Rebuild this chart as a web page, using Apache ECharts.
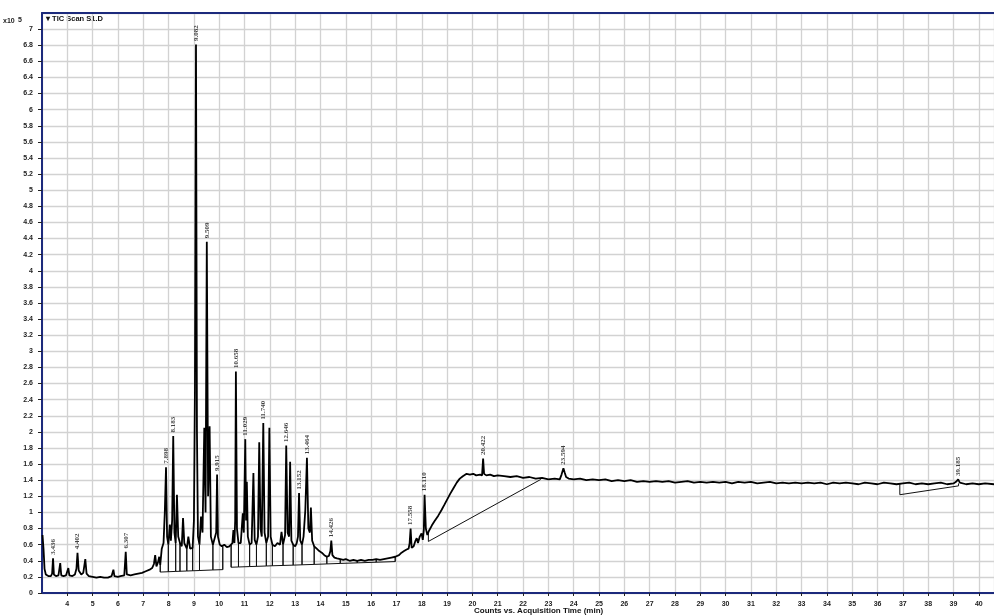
<!DOCTYPE html>
<html>
<head>
<meta charset="utf-8">
<script src="https://cdn.jsdelivr.net/npm/echarts@6/dist/echarts.min.js"></script>
<style>
  html, body { margin: 0; padding: 0; background: #fff; }
  #chart { width: 994px; height: 616px; }
</style>
</head>
<body>
<div id="chart"></div>
<script>
// TIC Scan S1.D — acquisition time (min) against counts (x10^5)

// Trace points between the labelled peaks
const earlyTrace = [
  [3.02,0.72],[3.06,0.55],[3.10,0.30],[3.15,0.23],[3.25,0.21],[3.35,0.21],[3.40,0.24],
  [3.47,0.23],[3.55,0.21],[3.65,0.22],[3.72,0.37],[3.76,0.22],[3.85,0.21],[3.95,0.22],
  [4.04,0.31],[4.08,0.22],[4.20,0.21],[4.30,0.23],[4.36,0.30],[4.45,0.28],[4.55,0.23],
  [4.63,0.25],[4.71,0.42],[4.76,0.24],[4.85,0.21],[5.00,0.20],[5.15,0.19],[5.30,0.20],
  [5.45,0.19],[5.60,0.19],[5.75,0.21],[5.82,0.29],[5.86,0.21],[6.00,0.20],[6.10,0.21],
  [6.25,0.22],[6.35,0.23],[6.50,0.22],[6.65,0.23],[6.80,0.24],[6.95,0.25],[7.10,0.27],
  [7.25,0.29],[7.35,0.31],[7.42,0.36],[7.47,0.47],[7.52,0.33],[7.58,0.38],[7.63,0.45],
  [7.67,0.35],[7.73,0.55]
];

const clusterTrace = [
  [7.80,0.62],[7.85,1.00],[7.94,0.70],[7.99,0.60],[8.05,0.85],[8.09,0.65],[8.14,0.90],
  [8.23,0.75],[8.28,0.62],[8.33,1.22],[8.38,0.70],[8.45,0.62],[8.52,0.58],[8.57,0.93],
  [8.62,0.62],[8.72,0.55],[8.78,0.70],[8.85,0.55],[8.95,0.56],[9.00,0.90],[9.04,2.50],
  [9.12,2.00],[9.16,0.70],[9.22,0.60],[9.28,0.95],[9.34,0.75],[9.41,2.05],[9.46,1.00],
  [9.56,1.20],[9.62,2.07],[9.67,0.70],[9.75,0.60],[9.82,0.62],[9.88,0.75],[9.95,0.70],
  [10.02,0.60],[10.10,0.58],[10.20,0.60],[10.30,0.57],[10.40,0.58],[10.47,0.60],
  [10.52,0.62],[10.56,0.78],[10.60,0.62],[10.63,0.90],[10.70,0.80],[10.76,0.62],
  [10.85,0.62],[10.93,0.99],[10.97,0.75],[11.06,0.90],[11.09,1.38],[11.13,0.70],
  [11.20,0.60],[11.28,0.62],[11.35,1.49],[11.40,0.66],[11.47,0.60],[11.53,0.70],
  [11.58,1.87],[11.63,0.80],[11.68,0.70],[11.79,0.75],[11.86,0.62],[11.93,0.70],
  [11.98,2.05],[12.03,0.70],[12.10,0.60],[12.20,0.58],[12.30,0.62],[12.40,0.60],
  [12.46,0.76],[12.52,0.60],[12.60,0.72],[12.70,0.75],[12.76,0.70],[12.80,1.63],
  [12.85,0.65],[12.92,0.60],[13.00,0.58],[13.06,0.62],[13.11,0.70],[13.20,0.65],
  [13.27,0.60],[13.33,0.70],[13.40,1.03],[13.52,0.80],[13.58,0.75],[13.62,1.06],
  [13.67,0.65],[13.75,0.58],[13.85,0.55],[13.95,0.52],[14.05,0.50],[14.15,0.47],
  [14.25,0.45],[14.33,0.46],[14.39,0.52],[14.47,0.47],[14.55,0.44],[14.65,0.43],
  [14.78,0.42]
];

const rampTrace = [
  [14.90,0.41],[15.00,0.42],[15.15,0.40],[15.30,0.41],[15.45,0.40],[15.60,0.41],
  [15.75,0.40],[15.90,0.41],[16.05,0.41],[16.20,0.42],[16.35,0.41],[16.50,0.42],
  [16.65,0.43],[16.80,0.44],[16.95,0.45],[17.10,0.47],[17.20,0.50],[17.30,0.52],
  [17.40,0.54],[17.48,0.55],[17.52,0.62],[17.60,0.56],[17.68,0.58],[17.74,0.64],
  [17.80,0.68],[17.85,0.62],[17.92,0.70],[17.99,0.74],[18.04,0.66],[18.08,0.78],
  [18.16,0.80],[18.22,0.72],[18.28,0.77],[18.40,0.84],[18.50,0.89],[18.65,0.96],
  [18.78,1.03],[18.90,1.10],[19.00,1.16],[19.12,1.23],[19.25,1.30],[19.38,1.37],
  [19.50,1.42],[19.62,1.45],[19.77,1.48],[19.90,1.47],[20.03,1.48],[20.15,1.46],
  [20.30,1.47],[20.38,1.46],[20.46,1.48],[20.55,1.46],[20.70,1.47],[20.85,1.45],
  [21.00,1.46]
];

const plateauTrace = [
  [21.25,1.45],[21.50,1.44],[21.75,1.45],[22.00,1.43],[22.25,1.44],[22.50,1.42],
  [22.75,1.43],[23.00,1.41],[23.25,1.42],[23.45,1.41],[23.52,1.47],[23.64,1.50],
  [23.70,1.44],[23.80,1.42],[24.00,1.41],[24.25,1.42],[24.50,1.40],[24.75,1.41],
  [25.00,1.40],[25.25,1.41],[25.50,1.39],[25.75,1.40],[26.00,1.39],[26.25,1.40],
  [26.50,1.38],[26.75,1.39],[27.00,1.38],[27.25,1.39],[27.50,1.38],[27.75,1.39],
  [28.00,1.37],[28.25,1.38],[28.50,1.39],[28.75,1.37],[29.00,1.38],[29.25,1.37],
  [29.50,1.38],[29.75,1.37],[30.00,1.38],[30.25,1.36],[30.50,1.38],[30.75,1.37],
  [31.00,1.38],[31.25,1.36],[31.50,1.37],[31.75,1.38],[32.00,1.36],[32.25,1.37],
  [32.50,1.36],[32.75,1.37],[33.00,1.36],[33.25,1.37],[33.50,1.36],[33.75,1.37],
  [34.00,1.35],[34.25,1.37],[34.50,1.36],[34.75,1.37],[35.00,1.36],[35.25,1.35],
  [35.50,1.37],[35.75,1.36],[36.00,1.35],[36.25,1.37],[36.50,1.36],[36.75,1.35],
  [37.00,1.36],[37.25,1.37],[37.50,1.35],[37.75,1.36],[38.00,1.35],[38.25,1.36],
  [38.50,1.37],[38.75,1.35],[39.00,1.36],[39.10,1.38],[39.25,1.37],[39.50,1.35],
  [39.75,1.36],[40.00,1.35],[40.25,1.36],[40.60,1.35]
];

// Labelled peak apexes (retention time, counts)
const peakTimes  = [3.436, 4.402, 6.307, 7.898, 8.183, 9.082, 9.509, 9.915, 10.658, 11.029,
                    11.740, 12.646, 13.152, 13.464, 14.426, 17.558, 18.110, 20.422, 23.594, 39.185];
const peakCounts = [0.43, 0.50, 0.51, 1.56, 1.95, 6.81, 4.36, 1.47, 2.75, 1.91,
                    2.11, 1.83, 1.24, 1.68, 0.65, 0.80, 1.22, 1.67, 1.55, 1.41];

// Integration baselines: [time, baseline level, drop-line top]
const integrationA = [
  [7.67,0.260,0.35],[7.99,0.264,0.60],[8.28,0.268,0.62],[8.45,0.270,0.62],[8.72,0.273,0.55],
  [8.95,0.276,0.56],[9.22,0.279,0.60],[9.75,0.286,0.60],[10.14,0.290,0.58]
];
const integrationB = [
  [10.47,0.320,0.60],[10.76,0.323,0.62],[11.20,0.328,0.60],[11.47,0.331,0.60],[11.86,0.335,0.62],
  [12.10,0.338,0.60],[12.52,0.342,0.60],[12.92,0.346,0.60],[13.27,0.350,0.60],[13.75,0.355,0.58],
  [14.25,0.361,0.45],[14.78,0.367,0.42],[15.45,0.374,0.40],[16.20,0.382,0.42],[16.95,0.390,0.45]
];
// Straight baselines under the humps: start drop, then line to end point
const integrationC = [[18.26,0.76],[18.26,0.64],[22.70,1.41]];
const integrationD = [[36.88,1.36],[36.88,1.22],[39.20,1.33],[39.20,1.36]];

const xTickMin = 3, xTickMax = 40.6, xStep = 1;
const yTickMin = 0, yTickMax = 7.2, yStep = 0.2;

const peakPoints = peakTimes.map((t, i) => [t, peakCounts[i]]);
const trace = earlyTrace.concat(clusterTrace, rampTrace, plateauTrace, peakPoints)
  .sort((a, b) => a[0] - b[0]);

function dropLines(rows) {
  const pts = [];
  rows.forEach(r => { pts.push([r[0], r[1]], [r[0], r[2]], [r[0], r[1]]); });
  return pts;
}

const navy = '#1c2a7c';
const gridGray = '#d2d2d2';
const labelFont = { fontSize: 7, fontWeight: 'bold', color: '#222', fontFamily: 'Liberation Sans, Arial, sans-serif' };

const baseLineSeries = (data) => ({
  type: 'line', data, showSymbol: false, silent: true, animation: false, z: 2,
  lineStyle: { color: '#111', width: 1 }
});

const chart = echarts.init(document.getElementById('chart'), null, { renderer: 'canvas' });
chart.setOption({
  animation: false,
  backgroundColor: '#fff',
  grid: { left: 42, right: 0, top: 13, bottom: 23, containLabel: false },
  xAxis: [{
    type: 'value', min: xTickMin, max: xTickMax, interval: xStep,
    axisLine: { show: true, lineStyle: { color: navy, width: 2 } },
    axisTick: { show: true, length: 3, lineStyle: { color: '#222' } },
    axisLabel: Object.assign({ margin: 8, showMinLabel: false, showMaxLabel: false,
      formatter: v => String(Math.round(v)) }, labelFont),
    splitLine: { show: true, lineStyle: { color: gridGray, width: 1.3 } }
  }, {
    type: 'value', position: 'top', min: xTickMin, max: xTickMax,
    axisLine: { show: true, lineStyle: { color: navy, width: 2 } },
    axisTick: { show: false }, axisLabel: { show: false }, splitLine: { show: false }
  }],
  yAxis: {
    type: 'value', min: yTickMin, max: yTickMax, interval: yStep,
    axisLine: { show: true, lineStyle: { color: navy, width: 2 } },
    axisTick: { show: true, length: 4, lineStyle: { color: '#222' } },
    axisLabel: Object.assign({ margin: 9, showMaxLabel: false,
      formatter: v => String(Math.round(v * 10) / 10) }, labelFont),
    splitLine: { show: true, lineStyle: { color: gridGray, width: 1.3 } }
  },
  series: [
    {
      name: 'TIC Scan S1.D', type: 'line', data: trace, showSymbol: false,
      animation: false, z: 3, lineStyle: { color: '#000', width: 1.8 }
    },
    baseLineSeries(dropLines(integrationA)),
    baseLineSeries(dropLines(integrationB)),
    baseLineSeries(integrationC),
    baseLineSeries(integrationD),
    {
      type: 'scatter', data: peakPoints, symbolSize: 1, z: 4, silent: true,
      itemStyle: { color: 'transparent' },
      label: {
        show: true, position: 'top', distance: 3, rotate: 90,
        align: 'left', verticalAlign: 'middle',
        formatter: p => p.value[0].toFixed(3),
        fontSize: 7, fontWeight: 'bold', color: '#111',
        fontFamily: 'Liberation Serif, Times New Roman, serif'
      }
    }
  ],
  graphic: [
    {
      type: 'text', left: 3, top: 14,
      style: {
        text: '{a|x10} {b|5}',
        rich: {
          a: { fontSize: 7, fontWeight: 'bold', fill: '#222', fontFamily: 'Liberation Sans, Arial, sans-serif', padding: [3, 0, 0, 0] },
          b: { fontSize: 7, fontWeight: 'bold', fill: '#222', fontFamily: 'Liberation Sans, Arial, sans-serif' }
        }
      }
    },
    {
      type: 'text', left: 46, top: 15,
      style: { text: '\u25BE TIC Scan S1.D', fontSize: 7.5, fontWeight: 'bold', fill: '#111',
               fontFamily: 'Liberation Sans, Arial, sans-serif' }
    },
    {
      type: 'text', left: 474, top: 607,
      style: { text: 'Counts vs. Acquisition Time (min)', fontSize: 8, fontWeight: 'bold', fill: '#111',
               fontFamily: 'Liberation Sans, Arial, sans-serif' }
    }
  ]
});
</script>
</body>
</html>
